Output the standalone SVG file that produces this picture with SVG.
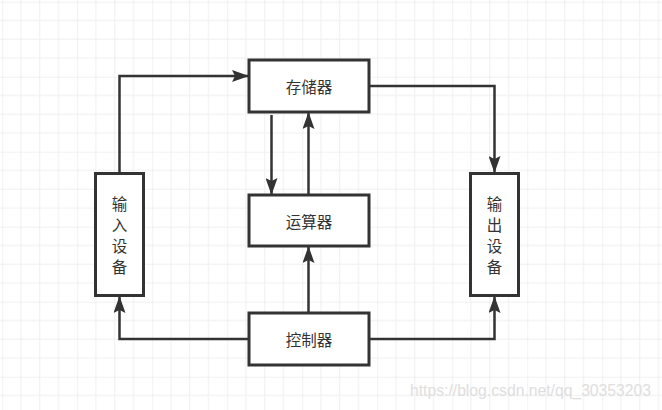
<svg xmlns="http://www.w3.org/2000/svg" width="662" height="410" viewBox="0 0 662 410">
  <defs>
    <pattern id="grid" x="2.25" y="1.7" width="75" height="75" patternUnits="userSpaceOnUse">
      <path d="M18.75 0V75M37.5 0V75M56.25 0V75M0 18.75H75M0 37.5H75M0 56.25H75" stroke="#efefef" stroke-width="1" fill="none"/>
      <path d="M0 0V75M0 0H75" stroke="#e3e3e3" stroke-width="1" fill="none"/>
    </pattern>
    <marker id="arr" viewBox="0 0 17 12" refX="16" refY="6" markerWidth="17" markerHeight="12" markerUnits="userSpaceOnUse" orient="auto">
      <path d="M0 0L17 6L0 12L3 6Z" fill="#333"/>
    </marker>
  </defs>
  <style>
    .box { fill: #fff; stroke: #333; stroke-width: 3; }
    .lbl { font-family: "Noto Sans CJK SC", "Noto Sans", sans-serif; font-size: 15.5px; fill: #333; text-anchor: middle; dominant-baseline: central; }
    .con { fill: none; stroke: #333; stroke-width: 2.5; marker-end: url(#arr); }
  </style>
  <rect width="662" height="410" fill="#fff"/>
  <rect width="662" height="410" fill="url(#grid)"/>

  <g id="connectors">
    <path class="con" d="M119.5 173V76H248"/>
    <path class="con" d="M369 86H494.5V172"/>
    <path class="con" d="M271.5 115V194"/>
    <path class="con" d="M308.5 195V113"/>
    <path class="con" d="M308.5 313V247"/>
    <path class="con" d="M249 339H119.5V297"/>
    <path class="con" d="M369 339H494.5V297"/>
  </g>

  <g id="memory">
    <rect class="box" x="249" y="60" width="120" height="52"/>
    <text class="lbl" x="309" y="86">存储器</text>
  </g>
  <g id="alu">
    <rect class="box" x="249" y="195" width="120" height="51"/>
    <text class="lbl" x="309" y="221">运算器</text>
  </g>
  <g id="control">
    <rect class="box" x="249" y="313" width="120" height="52"/>
    <text class="lbl" x="309" y="339">控制器</text>
  </g>
  <g id="input">
    <rect class="box" x="95.5" y="173.5" width="48" height="122"/>
    <text class="lbl" x="119.5" y="203">输</text>
    <text class="lbl" x="119.5" y="224">入</text>
    <text class="lbl" x="119.5" y="245">设</text>
    <text class="lbl" x="119.5" y="266">备</text>
  </g>
  <g id="output">
    <rect class="box" x="470.5" y="173.5" width="48" height="122"/>
    <text class="lbl" x="494.5" y="203">输</text>
    <text class="lbl" x="494.5" y="224">出</text>
    <text class="lbl" x="494.5" y="245">设</text>
    <text class="lbl" x="494.5" y="266">备</text>
  </g>

  <text x="410" y="396" font-family="Liberation Sans, Arial, sans-serif" font-size="16" fill="#dedede" textLength="241" lengthAdjust="spacingAndGlyphs">https://blog.csdn.net/qq_30353203</text>
</svg>
